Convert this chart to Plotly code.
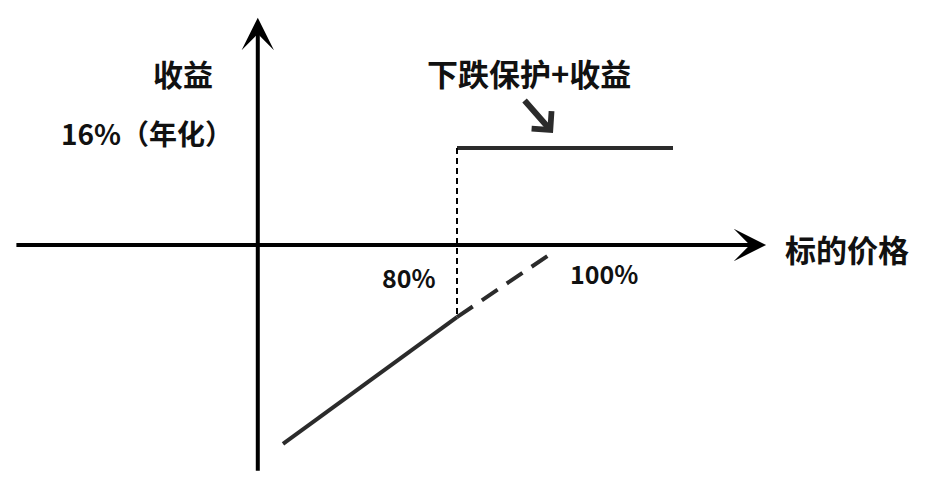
import plotly.graph_objects as go

# price axis in % of initial price, return axis in % (annualised)
axis_price = [-12.1, 144.4]
axis_return = [-37.5, 37.5]
yaxis_at_price = 38.5

protect_price = [80, 125]
protect_return = [16, 16]

knock_price = [80, 80]
knock_return = [16, -11.9]

loss_price = [43.75, 80]
loss_return = [-32.8, -11.9]

stock_price = [80, 100]
stock_return = [-11.9, -1.2]

pointer_tail = (93.8, 24.1)
pointer_tip = (100, 18.5)

labels = [
    ("收益", 22.9, 28.4, 30),
    ("16%（年化）", 15.4, 18.5, 28),
    ("下跌保护+收益", 95.0, 28.5, 31),
    ("80%", 70.0, -5.3, 25),
    ("100%", 110.6, -4.6, 25),
    ("标的价格", 161.25, -0.5, 31),
]

FONT = "Noto Sans CJK SC"
LINE = "#2b2b2b"

fig = go.Figure()
fig.add_trace(go.Scatter(x=protect_price, y=protect_return, mode="lines",
                         line=dict(color=LINE, width=4)))
fig.add_trace(go.Scatter(x=knock_price, y=knock_return, mode="lines",
                         line=dict(color="black", width=2, dash="6px,4px")))
fig.add_trace(go.Scatter(x=loss_price, y=loss_return, mode="lines",
                         line=dict(color=LINE, width=4)))
fig.add_trace(go.Scatter(x=stock_price, y=stock_return, mode="lines",
                         line=dict(color=LINE, width=4, dash="19px,11px")))

# axes drawn as arrows
fig.add_annotation(x=axis_price[1], y=0, ax=axis_price[0], ay=0,
                   xref="x", yref="y", axref="x", ayref="y", text="",
                   showarrow=True, arrowhead=3, arrowsize=1.35, arrowwidth=4,
                   arrowcolor="black")
fig.add_annotation(x=yaxis_at_price, y=axis_return[1], ax=yaxis_at_price, ay=axis_return[0],
                   xref="x", yref="y", axref="x", ayref="y", text="",
                   showarrow=True, arrowhead=3, arrowsize=1.35, arrowwidth=4,
                   arrowcolor="black")
fig.add_annotation(x=pointer_tip[0], y=pointer_tip[1], ax=pointer_tail[0], ay=pointer_tail[1],
                   xref="x", yref="y", axref="x", ayref="y", text="",
                   showarrow=True, arrowhead=4, arrowsize=0.85, arrowwidth=6,
                   arrowcolor=LINE)

for text, px_, ry, size in labels:
    fig.add_annotation(x=px_, y=ry, xref="x", yref="y", text=text, showarrow=False,
                       font=dict(family=FONT, size=size, color="#111", weight="bold"))

# page body has an 8px margin, so the figure is 16px smaller than the window
fig.update_xaxes(range=[-13.54, 176.25], visible=False, showgrid=False, zeroline=False)
fig.update_yaxes(range=[-39.11, 39.11], visible=False, showgrid=False, zeroline=False)
fig.update_layout(width=911, height=474, margin=dict(l=0, r=0, t=0, b=0),
                  paper_bgcolor="white", plot_bgcolor="white", showlegend=False)

fig.write_html("out.html")
